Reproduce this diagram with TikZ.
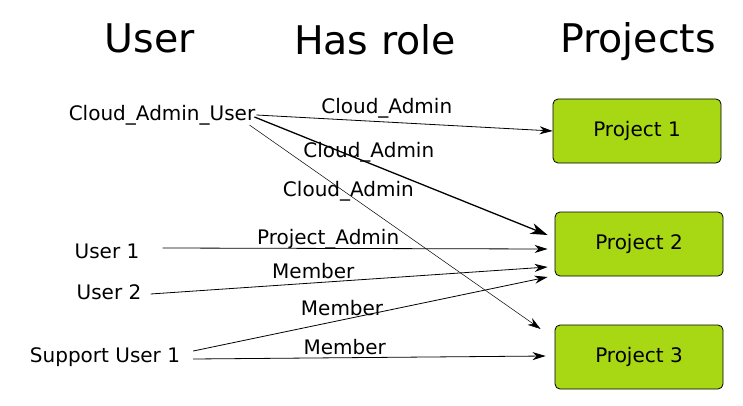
\documentclass[tikz,border=0pt]{standalone}
\usepackage{fontspec}
\setmainfont{DejaVu Sans}
\usetikzlibrary{arrows.meta,positioning}
\definecolor{projgreen}{RGB}{168,215,20}

\begin{document}
\begin{tikzpicture}[
  x=1pt, y=-1pt, >={Stealth[length=13pt,width=8pt,inset=4pt]},
  title/.style={font=\fontsize{39.5}{42}\selectfont, inner sep=0pt},
  who/.style={font=\fontsize{20}{23}\selectfont, inner sep=1pt},
  role/.style={font=\fontsize{20}{23}\selectfont, inner sep=1pt},
  proj/.style={draw, rounded corners=5pt, fill=projgreen, line width=0.8pt,
               minimum width=168pt, minimum height=64pt,
               font=\fontsize{20}{23}\selectfont},
  arr/.style={->, line width=0.8pt}, thinarr/.style={->, line width=0.5pt},
  thickarr/.style={-{Stealth[length=17pt,width=11pt,inset=5pt]}, line width=1.3pt}
]
\useasboundingbox (0,0) rectangle (743,406);
% column titles
\node[title] (tuser) at (150,38) {User};
\node[title] (trole) at (375,40) {Has role};
\node[title] (tproj) at (638,42) {Projects};
% projects
\node[proj] (p1) at (637,131) {Project 1};
\node[proj] (p2) at (639,244) {Project 2};
\node[proj] (p3) at (639,357) {Project 3};
% users
\node[who] (cau) at (162,115) {Cloud\_Admin\_User};
\node[who] (u1) at (107,251) {User 1};
\node[who] (u2) at (109,292) {User 2};
\node[who] (su1) at (105,357) {Support User 1};
% role assignments
\draw[arr] (cau.east) -- node[role, pos=0.44, above=2pt] {Cloud\_Admin} (p1.west);
\draw[thickarr] ([shift={(-2,2)}]cau.east) -- node[role, pos=0.39, above=-1pt] {Cloud\_Admin} ([shift={(-7,-9)}]p2.west);
\draw[thinarr] ([shift={(-7,10)}]cau.east) -- node[role, pos=0.34, yshift=3pt] {Cloud\_Admin} ([shift={(-14,-28)}]p3.west);
\draw[arr] ([shift={(22,-3)}]u1.east) -- node[role, pos=0.43, above=-2pt] {Project\_Admin} ([shift={(-7,5)}]p2.west);
\draw[arr] ([shift={(8,2)}]u2.east) -- node[role, pos=0.41, above=3pt] {Member} ([shift={(-7,23)}]p2.west);
\draw[arr] ([shift={(12,-6)}]su1.east) -- node[role, pos=0.42, above=3pt] {Member} ([shift={(-7,33)}]p2.west);
\draw[arr] ([shift={(12,2)}]su1.east) -- node[role, pos=0.43, above=2pt] {Member} ([shift={(-9,-1)}]p3.west);
\end{tikzpicture}
\end{document}
